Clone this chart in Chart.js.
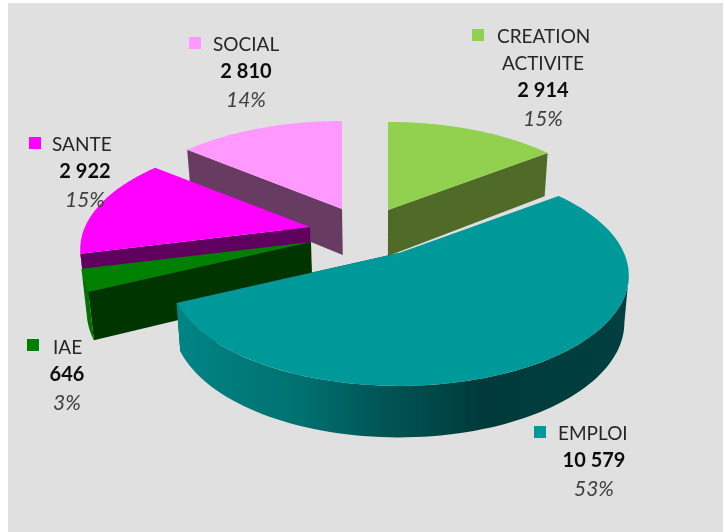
<!DOCTYPE html>
<html>
<head>
<meta charset="utf-8">
<title>Répartition</title>
<style>
    html, body { margin: 0; padding: 0; background: #fff; }
    canvas { display: block; }
</style>
<script src="https://cdn.jsdelivr.net/npm/chart.js@4/dist/chart.umd.min.js"></script>
</head>
<body>
<canvas id="pieChart" width="725" height="532"></canvas>
<script>
// Data
const categories = ['CREATION ACTIVITE', 'EMPLOI', 'IAE', 'SANTE', 'SOCIAL'];
const values = [2914, 10579, 646, 2922, 2810];
const percents = ['15%', '53%', '3%', '15%', '14%'];

// Styles
const topColors = ['#92d050', '#009999', '#008000', '#ff00ff', '#ff99ff'];
const sideColors = ['#506b28', '#003c3c', '#003500', '#5f005f', '#683c62'];
const drawOrder = [4, 0, 3, 2, 1];

// Where each exploded slice has its apex on the picture
const apexX = [388, 399, 311, 310, 342];
const apexY = [210, 253, 242, 227, 209];

// Label positions
const labelLines = [
    ['CREATION', 'ACTIVITE'], ['EMPLOI'], ['IAE'], ['SANTE'], ['SOCIAL']
];
const labelX = [497, 558, 53, 52, 213];
const labelY = [37, 434, 348, 145, 45];
const swatchX = [472, 534, 27, 29, 189];
const swatchY = [29, 426, 339, 137, 37];
const centerX = [543, 594, 67, 85, 246];

const PERSPECTIVE = 0.203;
const FLATTEN = 0.4707;
const DEPTH = 46;
const VANISH_X = 385;
const VANISH = 0.982;

// Project a point of the pie plane on the screen
function project(i, angle, radius, lower) {
    const theta = angle + Math.PI / 2;
    const c = Math.cos(theta) * radius;
    const s = 1 / (1 + PERSPECTIVE * c);
    let x = apexX[i] + Math.sin(theta) * radius * 225 * s;
    let y = apexY[i] - c * 225 * FLATTEN * s;
    if (lower) {
        x = VANISH_X + (x - VANISH_X) * VANISH;
        y += DEPTH * Math.sqrt(s);
    }
    return { x: x, y: y };
}

function fillPoly(ctx, points, fill) {
    ctx.beginPath();
    points.forEach(function (p, n) {
        if (n === 0) ctx.moveTo(p.x, p.y);
        else ctx.lineTo(p.x, p.y);
    });
    ctx.closePath();
    ctx.fillStyle = fill;
    ctx.fill();
}

function arcPoints(i, from, to, lower) {
    const points = [];
    for (let n = 0; n <= 80; n++) {
        points.push(project(i, from + (to - from) * n / 80, 1, lower));
    }
    return points;
}

function wallFill(ctx, i) {
    if (i === 1) {
        const g = ctx.createLinearGradient(175, 0, 628, 0);
        g.addColorStop(0, '#008585');
        g.addColorStop(0.28, '#007070');
        g.addColorStop(0.42, '#005a5a');
        g.addColorStop(0.68, '#003a3a');
        g.addColorStop(1, '#004040');
        return g;
    }
    if (i === 2) return '#007000';
    return sideColors[i];
}

function drawSlice(ctx, arc, i) {
    const start = arc.startAngle;
    const end = arc.endAngle;

    // Flat side face: only the one nearer the viewer shows
    const front = Math.cos(start + Math.PI / 2) < Math.cos(end + Math.PI / 2) ? start : end;
    fillPoly(ctx, [
        project(i, front, 0, false),
        project(i, front, 1, false),
        project(i, front, 1, true),
        project(i, front, 0, true)
    ], sideColors[i]);

    // Outer wall, only the part that faces the viewer
    const edge = Math.acos(-PERSPECTIVE);
    const wallFrom = Math.max(start, edge - Math.PI / 2);
    const wallTo = Math.min(end, 2 * Math.PI - edge - Math.PI / 2);
    if (wallTo > wallFrom) {
        const upper = arcPoints(i, wallFrom, wallTo, false);
        const lower = arcPoints(i, wallFrom, wallTo, true).reverse();
        fillPoly(ctx, upper.concat(lower), wallFill(ctx, i));
    }

    // Top of the slice
    const top = [project(i, start, 0, false)].concat(arcPoints(i, start, end, false));
    fillPoly(ctx, top, arc.options.backgroundColor);
}

function formatValue(v) {
    return String(v).replace(/\B(?=(\d{3})+$)/g, ' ');
}

const pie3d = {
    id: 'pie3d',
    beforeDraw: function (chart) {
        const ctx = chart.ctx;
        ctx.fillStyle = '#e0e0e0';
        ctx.fillRect(8, 3, 715, 529);
    },
    beforeDatasetDraw: function (chart, args) {
        const arcs = args.meta.data;
        drawOrder.forEach(function (i) {
            drawSlice(chart.ctx, arcs[i], i);
        });
        return false;
    },
    afterDraw: function (chart) {
        const ctx = chart.ctx;
        ctx.save();
        ctx.textBaseline = 'middle';
        categories.forEach(function (name, i) {
            ctx.fillStyle = topColors[i];
            ctx.fillRect(swatchX[i], swatchY[i], 12, 12);

            ctx.font = '19px Lato';
            ctx.fillStyle = '#262626';
            ctx.textAlign = 'left';
            ctx.fillText(labelLines[i][0], labelX[i], labelY[i]);
            ctx.textAlign = 'center';
            let y = labelY[i];
            if (labelLines[i][1]) {
                y += 27;
                ctx.fillText(labelLines[i][1], centerX[i], y);
            }
            ctx.font = 'bold 20px Lato';
            ctx.fillStyle = '#0d0d0d';
            ctx.fillText(formatValue(values[i]), centerX[i], y + 27);
            ctx.font = 'italic 21px Lato';
            ctx.fillStyle = '#404040';
            ctx.fillText(percents[i], centerX[i], y + 55);
        });
        ctx.restore();
    }
};

new Chart(document.getElementById('pieChart'), {
    type: 'pie',
    data: {
        labels: categories,
        datasets: [{
            data: values,
            backgroundColor: topColors,
            borderWidth: 0
        }]
    },
    options: {
        responsive: false,
        animation: false,
        radius: 225,
        plugins: {
            legend: { display: false },
            tooltip: { enabled: false }
        }
    },
    plugins: [pie3d]
});
</script>
</body>
</html>
